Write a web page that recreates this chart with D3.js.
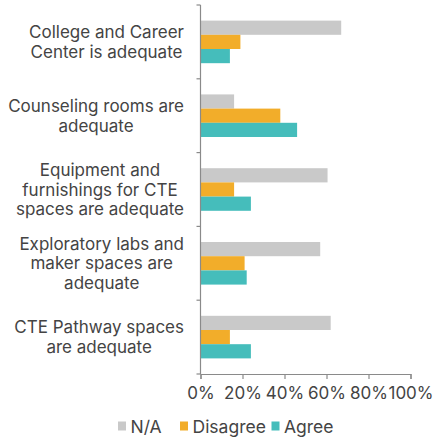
<!DOCTYPE html>
<html><head><meta charset="utf-8">
<script src="https://cdn.jsdelivr.net/npm/d3@7"></script>
<style>body{margin:0;background:#fff;}svg{display:block;font-family:"Inter","Liberation Sans",sans-serif;}</style>
</head><body>
<svg id="c" width="436" height="438"></svg>
<script>
const categories = [
  ["College and Career", "Center is adequate"],
  ["Counseling rooms are", "adequate"],
  ["Equipment and", "furnishings for CTE", "spaces are adequate"],
  ["Exploratory labs and", "maker spaces are", "adequate"],
  ["CTE Pathway spaces", "are adequate"]
];
const seriesNames = ["N/A", "Disagree", "Agree"];
const naValues = [67, 16, 60.5, 57, 62];
const disagreeValues = [19, 38, 16, 21, 14];
const agreeValues = [14, 46, 24, 22, 24];
const tickValues = [0, 20, 40, 60, 80, 100];
const colors = ["#c9c9c9", "#f2ad2a", "#45bdbb"];

(function () {
const svg = d3.select("#c");
const mLeft = 200.5, mRight = 410.5, mTop = 5, mBottom = 374;
const x = d3.scaleLinear().domain([0, 100]).range([mLeft, mRight]);
const y = d3.scaleBand().domain(d3.range(categories.length)).range([mTop, mBottom]).paddingInner(0).paddingOuter(0);
const inner = d3.scaleBand().domain(d3.range(3)).range([0, y.bandwidth()]).paddingInner(0).paddingOuter(1.1);
const series = [naValues, disagreeValues, agreeValues];

series.forEach((vals, si) => {
  svg.append("g").selectAll("rect").data(vals).join("rect")
    .attr("x", x(0))
    .attr("y", (d, i) => y(i) + inner(si))
    .attr("width", d => x(d) - x(0))
    .attr("height", inner.bandwidth())
    .attr("fill", colors[si]);
});

const yAxisG = svg.append("g").attr("transform", `translate(${mLeft},0)`);
yAxisG.append("line").attr("x1", 0).attr("x2", 0).attr("y1", mTop).attr("y2", mBottom).attr("stroke", "#8a8a8a").attr("stroke-width", 1.2);
const bounds = d3.range(categories.length + 1).map(i => mTop + i * y.step());
yAxisG.selectAll("line.t").data(bounds).join("line").attr("class", "t")
  .attr("x1", -4).attr("x2", 0).attr("y1", d => d).attr("y2", d => d)
  .attr("stroke", "#8a8a8a").attr("stroke-width", 1.2);

const lh = 19.5;
categories.forEach((lines, i) => {
  const cy = y(i) + y.bandwidth() / 2;
  const t = svg.append("text").attr("text-anchor", "middle").attr("fill", "#444")
    .attr("font-size", 17);
  const spans = lines.map((ln, j) => t.append("tspan")
      .attr("y", cy + (j - (lines.length - 1) / 2) * lh)
      .attr("dy", "0.36em").text(ln));
  const maxW = d3.max(spans, s => s.node().getComputedTextLength());
  spans.forEach(s => s.attr("x", 184 - maxW / 2));
});

const xAxis = d3.axisBottom(x).tickValues(tickValues).tickFormat(d => d + "%").tickSize(5).tickPadding(8);
const xg = svg.append("g").attr("transform", `translate(0,${mBottom})`).call(xAxis);
xg.select(".domain").attr("stroke", "#8a8a8a").attr("stroke-width", 1.2);
xg.selectAll(".tick line").attr("stroke", "#8a8a8a").attr("stroke-width", 1.2);
xg.selectAll(".tick text").attr("fill", "#444").attr("font-size", 17)
  .attr("font-family", "Inter, 'Liberation Sans', sans-serif");

const legendX = [118, 180, 271.5];
const lg = svg.append("g");
seriesNames.forEach((n, i) => {
  lg.append("rect").attr("x", legendX[i]).attr("y", 421.5).attr("width", 8).attr("height", 9).attr("fill", colors[i]);
  lg.append("text").attr("x", legendX[i] + 12.5).attr("y", 427).attr("dy", "0.36em")
    .attr("fill", "#444").attr("font-size", 17.5).text(n);
});
})();
</script>
</body></html>
